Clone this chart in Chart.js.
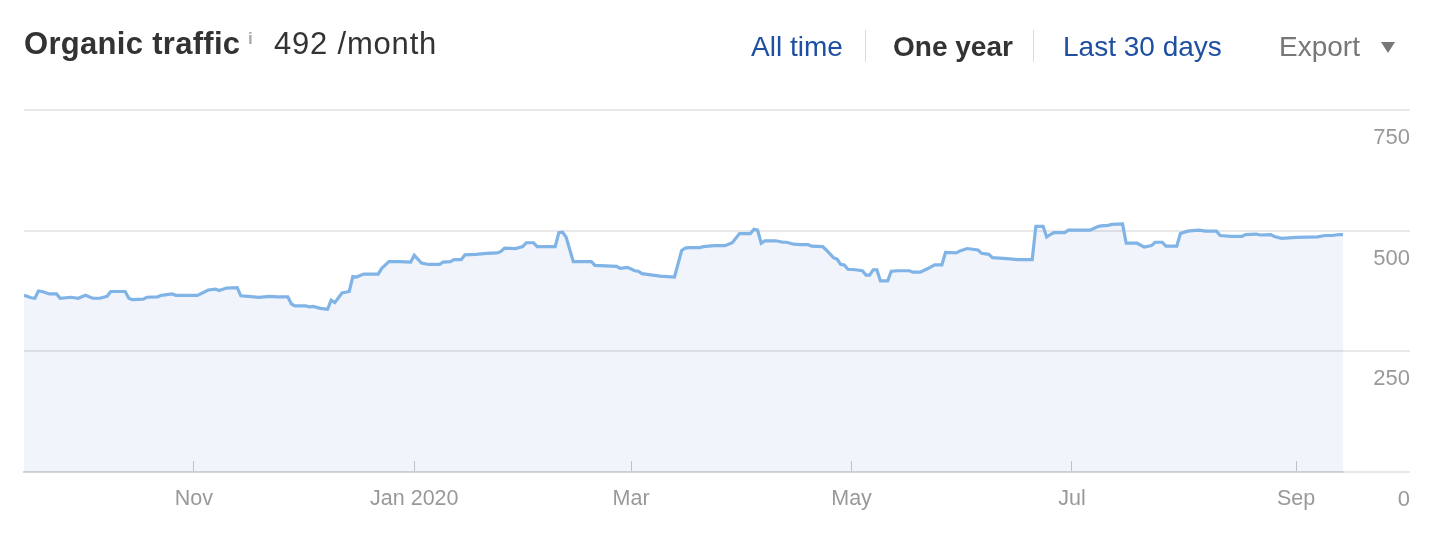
<!DOCTYPE html>
<html lang="en">
<head>
    <meta charset="UTF-8">
    <title>Organic traffic</title>
    <style>
        body {
            margin: 0;
            background: #fff;
            font-family: "Liberation Sans", Arial, sans-serif;
        }
        #wrap {
            position: relative;
            width: 1446px;
            height: 540px;
            overflow: hidden;
        }
        #wrap canvas {
            position: absolute;
            left: 0;
            top: 0;
        }
        .hd {
            position: absolute;
            white-space: nowrap;
            line-height: 1;
        }
        .title { left: 24px; top: 28px; font-size: 31px; font-weight: bold; color: #333; letter-spacing: 0.3px; }
        .info { left: 248px; top: 30px; font-size: 17px; color: #aaa; font-weight: bold; }
        .total { left: 274px; top: 28px; font-size: 31px; color: #333; letter-spacing: 0.8px; }
        .link { font-size: 28px; color: #1f4fa1; top: 33px; }
        .sel { color: #333; font-weight: bold; }
        .export { color: #777; }
        .sep { position: absolute; top: 30px; width: 1px; height: 32px; background: #dadada; }
        .arrow { position: absolute; left: 1381px; top: 42px; width: 0; height: 0;
                 border-left: 7px solid transparent; border-right: 7px solid transparent; border-top: 11px solid #777; }
    </style>
</head>
<body>
<div id="wrap">
    <canvas id="traffic-chart" width="1446" height="540"></canvas>
    <div class="hd title">Organic traffic</div>
    <div class="hd info">i</div>
    <div class="hd total">492 /month</div>
    <div class="hd link" style="left:751px">All time</div>
    <div class="sep" style="left:865px"></div>
    <div class="hd link sel" style="left:893px">One year</div>
    <div class="sep" style="left:1033px"></div>
    <div class="hd link" style="left:1063px">Last 30 days</div>
    <div class="hd link export" style="left:1279px">Export</div>
    <div class="arrow"></div>
</div>

<script src="https://cdn.jsdelivr.net/npm/chart.js"></script>
<script>
    // day 0 = Sep 15 2019, day 365 = Sep 14 2020
    const days = [0,2,3,4,5,7,9,10,13,15,17,19,21,23,24,28,29,30,33,34,37,38,41,42,48,51,53,54,56,59,
        60,62,65,68,70,73,74,75,78,79,80,82,84,85,86,88,90,91,92,94,98,99,101,104,107,108,110,112,115,116,
        118,119,121,122,125,128,131,132,133,136,138,139,141,142,147,148,149,150,152,157,158,164,165,167,169,170,171,174,176,180,
        182,183,184,187,188,191,194,196,198,201,202,203,204,205,208,210,211,213,215,217,218,221,222,224,225,226,227,228,230,232,
        233,234,235,236,237,239,240,242,245,246,248,250,252,254,255,258,259,261,264,265,267,268,272,275,279,280,282,283,284,285,
        288,289,295,297,298,300,301,304,305,308,310,312,313,315,316,319,320,322,325,327,330,331,334,337,338,341,342,345,346,348,
        350,352,358,360,362,364,365];
    const traffic = [366,361,360,375,374,369,369,360,362,360,366,360,360,364,374,374,360,357,358,362,363,366,369,366,366,377,379,376,381,382,
        365,364,362,364,363,363,348,344,344,342,343,339,337,356,351,371,374,405,404,410,410,422,436,436,435,449,433,430,430,435,
        436,440,440,450,451,453,454,457,464,463,467,475,475,467,467,496,497,487,436,436,428,426,422,424,417,416,411,408,406,404,
        459,464,465,465,467,469,469,475,494,494,503,501,474,479,479,476,476,472,471,471,468,467,460,444,441,430,429,420,419,417,
        408,408,419,419,396,396,416,417,417,414,414,421,429,429,455,454,458,463,460,453,451,444,442,440,440,509,509,487,492,496,
        496,501,501,508,510,511,513,514,474,474,466,469,476,476,468,468,494,499,501,499,499,490,488,488,492,493,491,492,488,484,
        485,486,487,490,490,492,492];

    const monthDays = [47, 108, 168, 229, 290, 352];
    const monthLabels = ['Nov', 'Jan 2020', 'Mar', 'May', 'Jul', 'Sep'];
    const yTicks = [0, 250, 500, 750];

    Chart.defaults.font.family = '"Liberation Sans", Arial, sans-serif';

    const ctx = document.getElementById('traffic-chart').getContext('2d');
    new Chart(ctx, {
        type: 'line',
        data: {
            datasets: [{
                data: days.map((d, i) => ({ x: d, y: traffic[i] })),
                borderColor: '#80b3e6',
                borderWidth: 3.2,
                backgroundColor: 'rgba(80, 130, 205, 0.08)',
                fill: 'origin',
                pointRadius: 0,
                tension: 0
            }]
        },
        options: {
            responsive: false,
            animation: false,
            devicePixelRatio: 1,
            layout: { padding: { left: 24, top: 110, right: 36, bottom: 28 } },
            plugins: { legend: { display: false }, tooltip: { enabled: false } },
            scales: {
                x: {
                    type: 'linear',
                    min: 0,
                    max: 365,
                    afterBuildTicks: (s) => { s.ticks = monthDays.map(v => ({ value: v })); },
                    afterFit: (s) => { s.height = 40; },
                    grid: { drawOnChartArea: false, tickLength: -11, color: '#c8c8c8', lineWidth: 1 },
                    border: { display: true, color: '#d6d6d6', width: 2 },
                    ticks: {
                        padding: 25,
                        maxRotation: 0,
                        color: '#999',
                        font: { size: 21.5 },
                        callback: (v) => monthLabels[monthDays.indexOf(v)] ?? ''
                    }
                },
                y: {
                    position: 'right',
                    min: 0,
                    max: 750,
                    afterBuildTicks: (s) => { s.ticks = yTicks.map(v => ({ value: v })); },
                    afterFit: (s) => { s.width = 67; },
                    grid: { color: '#e8e8e8', lineWidth: 2, tickLength: 67 },
                    border: { display: false },
                    ticks: {
                        crossAlign: 'far',
                        padding: 0,
                        labelOffset: 28,
                        color: '#999',
                        font: { size: 22 }
                    }
                }
            }
        }
    });
</script>
</body>
</html>
